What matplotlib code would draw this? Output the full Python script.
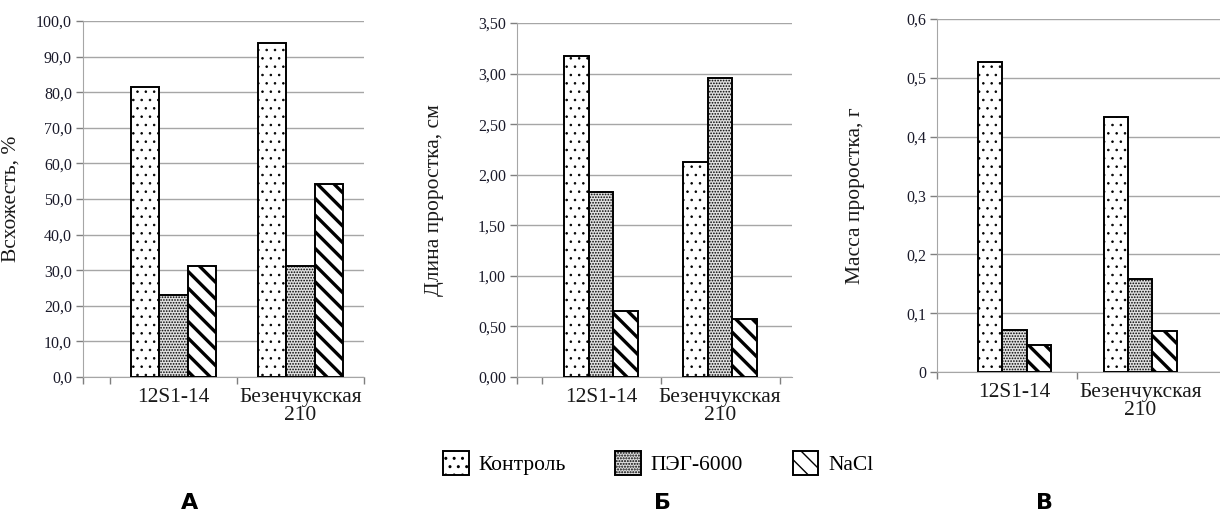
import matplotlib
matplotlib.use("Agg")
import matplotlib.pyplot as plt
from matplotlib.patches import Patch
from matplotlib.ticker import FixedLocator, FixedFormatter

# ---- data ----
categories = ['12S1-14', 'Безенчукская\n210']
series_names = ['Контроль', 'ПЭГ-6000', 'NaCl']

germ_control = [81.5, 93.8]
germ_peg = [23.1, 31.2]
germ_nacl = [31.3, 54.1]

length_control = [3.17, 2.13]
length_peg = [1.83, 2.96]
length_nacl = [0.65, 0.57]

mass_control = [0.527, 0.433]
mass_peg = [0.072, 0.158]
mass_nacl = [0.046, 0.070]

germ_ticks = [0, 10, 20, 30, 40, 50, 60, 70, 80, 90, 100]
germ_labels = ['0,0', '10,0', '20,0', '30,0', '40,0', '50,0', '60,0', '70,0', '80,0', '90,0', '100,0']
length_ticks = [0, 0.5, 1.0, 1.5, 2.0, 2.5, 3.0, 3.5]
length_labels = ['0,00', '0,50', '1,00', '1,50', '2,00', '2,50', '3,00', '3,50']
mass_ticks = [0, 0.1, 0.2, 0.3, 0.4, 0.5, 0.6]
mass_labels = ['0', '0,1', '0,2', '0,3', '0,4', '0,5', '0,6']

ylabels = ['Всхожесть, %', 'Длина проростка, см', 'Масса проростка, г']
panel_letters = ['А', 'Б', 'В']

# ---- style ----
SERIF = ['Liberation Serif', 'DejaVu Serif']
plt.rcParams['font.family'] = SERIF
hatches = ['..', '......', '\\\\']
faces = ['white', '#e0e0e0', 'white']
hatch_lws = [0.6, 0.8, 2.4]
GRID = '#a6a6a6'

W, H = 1220, 514
fig = plt.figure(figsize=(W / 100, H / 100), dpi=100)


def px_axes(l, r, top, bottom):
    return fig.add_axes([l / W, 1 - bottom / H, (r - l) / W, (bottom - top) / H])


panels = [
    dict(rect=(83, 364, 21, 377), xlim=(0.287, 2.5), data=(germ_control, germ_peg, germ_nacl),
         ticks=germ_ticks, labels=germ_labels, ylim=(0, 100), bw=0.225, xt=[0.287, 0.5, 1.5, 2.5],
         ylx=-0.224, letter_x=190),
    dict(rect=(517, 792, 23, 377), xlim=(0.293, 2.604), data=(length_control, length_peg, length_nacl),
         ticks=length_ticks, labels=length_labels, ylim=(0, 3.5), bw=0.206, xt=[0.293, 0.5, 1.5, 2.5],
         ylx=-0.266, letter_x=662),
    dict(rect=(937, 1220, 19, 372), xlim=(0.384, 2.633), data=(mass_control, mass_peg, mass_nacl),
         ticks=mass_ticks, labels=mass_labels, ylim=(0, 0.6), bw=0.192, xt=[0.384, 1.5],
         ylx=-0.253, letter_x=1044),
]

x = [1, 2]
for i, p in enumerate(panels):
    ax = px_axes(*p['rect'])
    ax.set_xlim(*p['xlim'])
    ax.set_ylim(*p['ylim'])
    bw = p['bw']
    for k, vals in enumerate(p['data']):
        pos = [xi + (k - 1) * bw for xi in x]
        bars = ax.bar(pos, vals, width=bw, color=faces[k], edgecolor='black',
                      linewidth=1.4, hatch=hatches[k], zorder=3)
        for b in bars:
            if hasattr(b, 'set_hatch_linewidth'):
                b.set_hatch_linewidth(hatch_lws[k])
    ax.yaxis.set_major_locator(FixedLocator(p['ticks']))
    ax.yaxis.set_major_formatter(FixedFormatter(p['labels']))
    ax.grid(axis='y', color=GRID, linewidth=1.0, zorder=0)
    ax.set_axisbelow(True)
    for s in ['top', 'right']:
        ax.spines[s].set_visible(False)
    ax.spines['left'].set_color(GRID)
    ax.spines['bottom'].set_color(GRID)
    ax.tick_params(axis='y', colors='#7f7f7f', length=5, width=1.0, labelsize=11.5,
                   labelcolor='#1a1a2a', pad=3)
    ax.set_xticks(p['xt'])
    ax.set_xticklabels([''] * len(p['xt']))
    ax.tick_params(axis='x', which='major', colors='#7f7f7f', length=5, width=1.0)
    ax.set_xticks(x, minor=True)
    ax.set_xticklabels(categories, minor=True, fontsize=15.5, linespacing=0.95, family=SERIF)
    ax.tick_params(axis='x', which='minor', length=0, pad=8, labelcolor='#1a1a1a')
    for lbl in ax.get_yticklabels():
        lbl.set_family(SERIF)
    ax.set_ylabel(ylabels[i], fontsize=15.5, color='#1a1a1a', family=SERIF)
    ax.yaxis.set_label_coords(p['ylx'], 0.5)
    fig.text(p['letter_x'] / W, 1 - 503 / H, panel_letters[i], family=['DejaVu Sans'],
             fontweight='bold', fontsize=16, ha='center', va='center', color='black')

handles = []
for k in range(3):
    h = Patch(facecolor=faces[k], edgecolor='black', hatch=hatches[k], linewidth=1.4)
    if hasattr(h, 'set_hatch_linewidth'):
        h.set_hatch_linewidth(hatch_lws[k])
    handles.append(h)
leg = fig.legend(handles, series_names, loc='center', bbox_to_anchor=(658 / W, 1 - 463 / H),
                 ncol=3, frameon=False, fontsize=15.5, handlelength=1.2, handleheight=1.35,
                 handletextpad=0.45, columnspacing=2.3, borderpad=0.2)
for t in leg.get_texts():
    t.set_family(SERIF)

fig.savefig('out.png', dpi=100, facecolor='white')
